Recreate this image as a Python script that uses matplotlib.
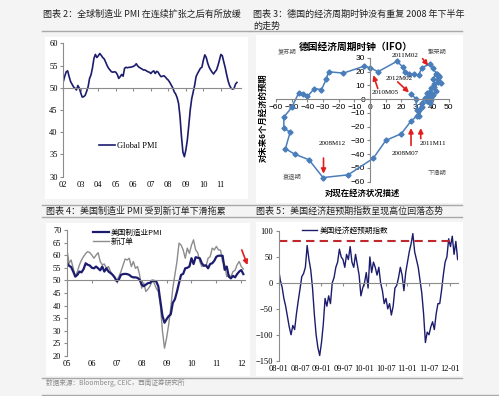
import numpy as np
import matplotlib
matplotlib.use('Agg')
import matplotlib.pyplot as plt
from matplotlib.lines import Line2D
from matplotlib.patches import Rectangle

# ---- data: global PMI, monthly 2002-01 .. 2011-12
global_pmi = [
    51.4, 52.6, 53.6, 53.8, 52.5, 51.4, 50.8, 50.2, 49.9, 49.5, 50.5, 49.9,
    48.8, 47.9, 48.0, 48.3, 49.2, 50.2, 52.1, 52.9, 54.5, 56.6, 57.5, 56.8,
    57.2, 57.7, 57.3, 56.8, 56.5, 55.8, 55.0, 54.4, 54.0, 53.6, 53.5, 53.6,
    53.5, 53.0, 52.1, 52.5, 53.0, 52.6, 54.4, 54.6, 54.5, 54.6, 54.6, 54.7,
    54.8, 55.0, 55.4, 54.9, 54.6, 54.4, 54.2, 54.0, 54.0, 53.8, 53.6, 53.5,
    53.2, 53.6, 53.8, 53.2, 53.7, 53.5, 52.9, 52.5, 52.6, 52.7, 52.4, 52.0,
    51.7, 51.2, 50.6, 50.0, 49.1, 48.6, 47.8, 46.5, 43.5, 39.0, 35.5, 34.5,
    36.0, 38.2, 41.5, 45.0, 47.5, 49.0, 50.5, 52.5, 53.2, 53.8, 54.4, 54.6,
    56.2, 57.4, 56.8, 55.5, 54.6, 54.0, 53.5, 53.1, 53.6, 54.0, 55.0, 56.2,
    57.5, 57.2, 55.8, 54.5, 52.9, 51.5, 50.5, 49.9, 49.7, 49.8, 50.8, 51.2,
]
global_years = ['02', '03', '04', '05', '06', '07', '08', '09', '10', '11']

# ---- data: Germany IFO clock (current situation, expectations)
ifo_now = [44, 45, 43, 42, 40, 41, 39, 42, 40, 38, 37, 39, 36, 38, 35, 33, 31, 30,
           26, 20, 10, 2, -14, -30,
           -39, -48, -54, -51, -55, -55, -50, -45.5, -43, -40, -35.5, -31,
           -28, -26.5, -17, -4, 0, 5, 17, 21, 22, 25, 28, 31,
           33, 38, 40, 42.5, 44, 43.5, 41, 36, 37, 33, 31.5, 30,
           29, 26]
ifo_exp = [17, 12, 14, 18, 15, 11, 8, 6, 3, 5, 2, 0, -1, -3, 1, -3, -8, -12,
           -16, -25, -30, -43, -55, -57,
           -44, -40, -36, -24, -21, -13, -6, 4.6, 4, 2, 7.8, 7,
           14.4, 20, 19, 24, 23, 20, 27.5, 23.5, 20, 18, 18, 17.5,
           23, 25.5, 22.5, 18.5, 16, 12.5, 9, 4.5, 1, -6, -12, -8,
           0.5, 4]
ifo_marks = [('2011M02', (33.5, 29.5), (37, 24.5), (22.3, 31.6)),
             ('2010M05', (4.9, 7.8), (2.1, 17.5), (9.6, 4.9)),
             ('2012M02', (17.6, 12.6), (24.8, 4.9), (18.5, 15.1)),
             ('2008M07', (26.1, -33.6), (26.1, -21), (22.3, -39.6)),
             ('2011M11', (32.3, -28.7), (32.3, -21), (40.3, -32.3)),
             ('2008M12', (-29.7, -42.8), (-29.7, -54.2), (-23.9, -32.3))]

# ---- data: US ISM PMI and new orders, monthly 2005-01 .. 2012-02
us_pmi = [
    57.0, 55.8, 55.3, 53.5, 51.5, 52.2, 53.5, 53.2, 54.5, 56.8, 56.2, 55.9,
    55.0, 54.8, 55.5, 54.8, 54.0, 55.5, 53.5, 54.8, 53.5, 52.9, 52.2, 51.2,
    49.6, 50.3, 52.2, 52.5, 52.6, 52.5, 52.2, 51.5, 51.2, 51.2, 51.0, 50.3,
    48.3, 47.7, 48.3, 48.9, 49.0, 49.9, 49.8, 49.6, 47.7, 41.8, 36.0, 33.2,
    34.6, 35.8, 36.5, 41.1, 42.5, 45.5, 49.0, 52.2, 52.6, 54.8, 55.0, 55.5,
    58.8, 56.5, 59.2, 59.0, 58.8, 56.8, 55.8, 56.0, 54.8, 56.5, 56.8, 57.8,
    59.4, 59.8, 59.8, 59.8, 54.2, 55.5, 51.5, 50.8, 51.8, 51.2, 52.5, 53.5,
    54.1, 52.5,
]
us_orders = [
    62.0, 56.8, 58.1, 54.8, 51.5, 53.5, 56.2, 58.1, 59.5, 60.7, 61.4, 61.0,
    60.0, 58.8, 60.0, 61.0, 57.5, 56.2, 56.5, 54.8, 55.5, 53.5, 52.2, 50.9,
    49.9, 51.5, 53.5, 56.0, 58.5, 58.1, 58.8, 55.5, 57.5, 54.8, 55.5, 52.2,
    46.9, 49.0, 45.6, 46.5, 47.7, 49.6, 49.0, 46.9, 45.6, 40.4, 30.0, 23.1,
    27.1, 32.4, 39.0, 46.9, 52.2, 57.5, 64.8, 64.0, 62.1, 58.8, 62.8, 60.7,
    64.0, 66.1, 62.1, 61.0, 57.5, 55.5, 56.0, 55.5, 58.8, 59.4, 62.8, 62.1,
    63.5, 62.1, 62.0, 57.5, 56.2, 51.5, 52.2, 51.5, 53.5, 54.0, 56.2, 57.5,
    55.5, 54.5,
]
us_years = ['05', '06', '07', '08', '09', '10', '11', '12']

# ---- data: US economic surprise index, twice a month from 2008-01
surprise = [
    28, 5, -8, -30, -45, -65, -85, -100, -82, -90, -60, -35, -12, 12, 18, 30,
    72, 45, 25, -10, -60, -100, -125, -140, -115, -80, -30, -45, -25, -40, 0, 10,
    30, 40, 65, 50, 45, 30, 55, 45, 70, 40, 30, 55, 35, 15, -25, -10,
    0, 20, -10, 50, 20, 40, 30, 15, 30, 0, -15, -40, -30, -50, -40, -62,
    -45, -10, -5, 10, 30, 15, -15, 20, 40, 60, 75, 95, 60, 45, 30, 5,
    -20, -60, -115, -95, -100, -85, -75, -90, -60, -40, -40, -15, 15, 40, 50, 85,
    70, 90, 55, 80, 45,
]
surprise_level = 80
surprise_ticks = ['08-01', '08-07', '09-01', '09-07', '10-01', '10-07', '11-01', '11-07', '12-01']

plt.rcParams['font.family'] = ['Noto Sans CJK SC', 'DejaVu Sans']

W, H = 499, 396
fig = plt.figure(figsize=(W / 100, H / 100), dpi=100, facecolor='#f4f4f4')


def box(x0, y0, x1, y1):
    return [x0 / W, 1 - y1 / H, (x1 - x0) / W, (y1 - y0) / H]


def ftext(x, y, s, **kw):
    fig.text(x / W, 1 - y / H, s, **kw)


def hline(x0, x1, y, color='#a8a8a8', lw=1.0):
    fig.add_artist(Line2D([x0 / W, x1 / W], [1 - y / H, 1 - y / H],
                          transform=fig.transFigure, color=color, lw=lw))


def white(x0, y0, x1, y1):
    fig.add_artist(Rectangle((x0 / W, 1 - y1 / H), (x1 - x0) / W, (y1 - y0) / H,
                             transform=fig.transFigure, facecolor='white',
                             edgecolor='none', zorder=0))


white(45, 37, 248, 199)
white(256, 35, 463, 203)
white(46, 223, 250, 376)
white(256, 222, 463, 376)

title_kw = dict(fontsize=6.5, color='#222222', va='center', ha='left')
ftext(43, 14, '图表 2：全球制造业 PMI 在连续扩张之后有所放缓', **title_kw)
ftext(253, 14, '图表 3：德国的经济周期时钟没有重复 2008 年下半年', **title_kw)
ftext(253, 26, '的走势', **title_kw)
ftext(46, 211, '图表 4：美国制造业 PMI 受到新订单下滑拖累', **title_kw)
ftext(256, 211, '图表 5：美国经济超预期指数呈现高位回落态势', **title_kw)
ftext(46, 383, '数据来源：Bloomberg, CEIC，西南证券研究所', fontsize=4.8,
      color='#8a8a8a', va='center', ha='left')

hline(42, 250, 30.5)
hline(250, 462, 30.5)
hline(42, 462, 204.5)
hline(42, 462, 217)
hline(42, 462, 378)
hline(42, 499, 394.5)

serif = {'family': 'Liberation Serif', 'size': 6}
grey = '#8c8c8c'


def style_axes(ax, cross):
    ax.set_facecolor('none')
    ax.spines['right'].set_visible(False)
    ax.spines['bottom'].set_visible(False)
    ax.spines['top'].set_position(('data', cross))
    ax.spines['top'].set_color(grey)
    ax.spines['left'].set_color(grey)
    ax.tick_params(axis='x', top=True, bottom=False, labeltop=False,
                   labelbottom=True, direction='in', length=2, color=grey, pad=3)
    ax.tick_params(axis='y', direction='out', length=2, color=grey, pad=2)
    for lab in ax.get_xticklabels() + ax.get_yticklabels():
        lab.set_fontproperties(serif)


# ---- panel 1: global PMI
ax1 = fig.add_axes(box(63.3, 43.3, 241, 176.7))
t1 = 2002 + np.arange(len(global_pmi)) / 12
ax1.plot(t1, global_pmi, color='#1c1c6e', lw=1.2, label='Global PMI')
ax1.set_xlim(2002, 2012.15)
ax1.set_ylim(30, 60)
ax1.set_yticks(range(30, 61, 5))
ax1.set_xticks(range(2002, 2002 + len(global_years)), global_years)
style_axes(ax1, 50)
ax1.legend(loc='center left', bbox_to_anchor=(99 / W, 1 - 145.7 / H),
           bbox_transform=fig.transFigure, frameon=False, borderpad=0,
           borderaxespad=0, handlelength=1.9, handletextpad=0.3, prop=serif)

# ---- panel 2: IFO clock
ax2 = fig.add_axes(box(276, 58, 448.5, 181.7))
ax2.set_facecolor('none')
ax2.plot(ifo_now, ifo_exp, color='#4a7ebb', lw=1.1, marker='D', ms=2.6)
ax2.set_xlim(-60, 50)
ax2.set_ylim(-60, 30)
ax2.set_xticks(range(-60, 51, 10))
ax2.set_yticks(range(-60, 31, 10))
for s in ['right', 'top']:
    ax2.spines[s].set_visible(False)
ax2.spines['left'].set_position(('data', 0))
ax2.spines['bottom'].set_position(('data', 0))
ax2.spines['left'].set_color('#868686')
ax2.spines['bottom'].set_color('#868686')
ax2.tick_params(direction='out', length=2, color='#868686', labelsize=6, pad=1.5)
for lab in ax2.get_xticklabels() + ax2.get_yticklabels():
    lab.set_family(['Liberation Sans', 'DejaVu Sans'])
for name, tail, tip, pos in ifo_marks:
    ax2.annotate('', xy=tip, xytext=tail, annotation_clip=False,
                 arrowprops=dict(arrowstyle='-|>', color='#e01e1e', lw=1.2,
                                 mutation_scale=7, shrinkA=0, shrinkB=0))
    ax2.text(pos[0], pos[1], name, fontsize=5, ha='center', va='center',
             family=['Liberation Serif', 'DejaVu Serif'], clip_on=False)
ftext(356, 47, '德国经济周期时钟（IFO）', fontsize=7, weight='bold', ha='center', va='center')
quad_kw = dict(fontsize=4.5, color='#555555', ha='center', va='center')
ftext(287, 52, '复苏期', **quad_kw)
ftext(437, 52, '繁荣期', **quad_kw)
ftext(292, 177, '衰退期', **quad_kw)
ftext(437, 173, '下滑期', **quad_kw)
ftext(362, 193, '对现在经济状况描述', fontsize=6, weight='bold', ha='center', va='center')
ftext(263, 118, '对未来6个月经济的预期', fontsize=6, weight='bold', ha='center',
      va='center', rotation=90)

# ---- panel 3: US PMI vs new orders
ax3 = fig.add_axes(box(67, 230, 245, 356))
t3 = 2005 + np.arange(len(us_pmi)) / 12
ax3.plot(t3, us_orders, color='#8c8c8c', lw=1.0, label='新订单')
ax3.plot(t3, us_pmi, color='#1c1c6e', lw=1.6, label='美国制造业PMI')
ax3.set_xlim(2005, 2012.15)
ax3.set_ylim(20, 70)
ax3.set_yticks(range(20, 71, 5))
ax3.set_xticks(range(2005, 2005 + len(us_years)), us_years)
style_axes(ax3, 50)
h, l = ax3.get_legend_handles_labels()
ax3.legend(h[::-1], l[::-1], loc='upper left', bbox_to_anchor=(92.7 / W, 1 - 228.5 / H),
           bbox_transform=fig.transFigure, frameon=False, borderpad=0,
           borderaxespad=0, handlelength=2.1, handletextpad=0.3, labelspacing=0.2,
           prop={'family': ['Noto Sans CJK SC', 'DejaVu Sans'], 'size': 5.5})
ax3.annotate('', xy=(2012.25, 56.1), xytext=(2012.02, 62.1), annotation_clip=False,
             arrowprops=dict(arrowstyle='-|>', color='#e01e1e', lw=1.2,
                             mutation_scale=7, shrinkA=0, shrinkB=0))

# ---- panel 4: US economic surprise index
ax4 = fig.add_axes(box(278.5, 231, 458, 360.7))
t4 = np.arange(len(surprise)) / 2
ax4.plot(t4, surprise, color='#1c1c6e', lw=1.0, label='美国经济超预期指数')
ax4.axhline(surprise_level, xmin=0, xmax=0.975, color='#c0282d', lw=1.5, ls=(0, (4, 2.5)))
ax4.set_xlim(0, 50.1)
ax4.set_ylim(-150, 100)
ax4.set_yticks(range(-150, 101, 50))
ax4.set_xticks(np.arange(len(surprise_ticks)) * 6, surprise_ticks)
style_axes(ax4, 0)
ax4.legend(loc='center left', bbox_to_anchor=(301.7 / W, 1 - 231 / H),
           bbox_transform=fig.transFigure, frameon=False, borderpad=0,
           borderaxespad=0, handlelength=2.0, handletextpad=0.3,
           prop={'family': ['Noto Sans CJK SC', 'DejaVu Sans'], 'size': 5.5})

fig.savefig('out.png', dpi=100, facecolor=fig.get_facecolor())
